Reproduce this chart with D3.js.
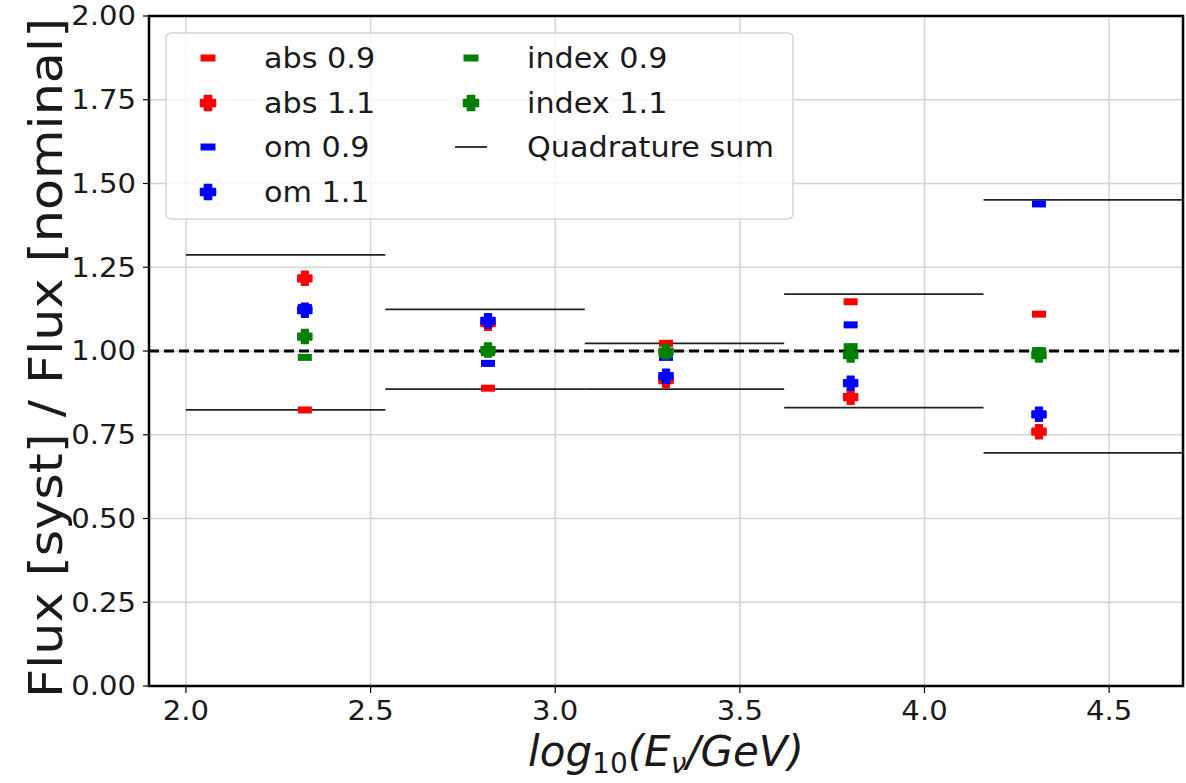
<!DOCTYPE html>
<html>
<head>
<meta charset="utf-8">
<script src="https://cdn.jsdelivr.net/npm/d3@7"></script>
<style>
  body { margin: 0; background: #fff; }
  text { font-family: "DejaVu Sans", sans-serif; fill: #1a1a1a; }
</style>
</head>
<body>
<div id="chart"></div>
<script>
// log10(E/GeV) bins and the mean energy of each bin
const binEdges = [2.0, 2.54, 3.08, 3.62, 4.16, 4.70];
const binCenters = [2.322, 2.818, 3.300, 3.800, 4.310];

// flux ratios per systematic variation
const abs09 = [0.824, 0.889, 1.023, 1.147, 1.110];
const abs11 = [1.217, 1.083, 0.913, 0.862, 0.759];
const om09 = [1.130, 0.963, 0.981, 1.078, 1.439];
const om11 = [1.122, 1.090, 0.925, 0.904, 0.811];
const index09 = [0.981, 0.995, 0.990, 1.013, 1.001];
const index11 = [1.043, 1.003, 0.998, 0.988, 0.988];

// quadrature sum band
const quadUpper = [1.287, 1.124, 1.023, 1.170, 1.451];
const quadLower = [0.824, 0.886, 0.886, 0.831, 0.696];

const xTicks = [2.0, 2.5, 3.0, 3.5, 4.0, 4.5];
const yTicks = [0, 0.25, 0.5, 0.75, 1.0, 1.25, 1.5, 1.75, 2.0];

const series = [
  { name: "abs 0.9", values: abs09, color: "#ff0000", shape: "dash" },
  { name: "abs 1.1", values: abs11, color: "#ff0000", shape: "plus" },
  { name: "om 0.9", values: om09, color: "#0000ff", shape: "dash" },
  { name: "om 1.1", values: om11, color: "#0000ff", shape: "plus" },
  { name: "index 0.9", values: index09, color: "#008000", shape: "dash" },
  { name: "index 1.1", values: index11, color: "#008000", shape: "plus" }
];

const width = 1186, height = 783;
const margin = { top: 16, right: 3, bottom: 97, left: 149 };

const svg = d3.select("#chart").append("svg")
  .attr("width", width)
  .attr("height", height);

const x = d3.scaleLinear().domain([1.9, 4.7]).range([margin.left, width - margin.right]);
const y = d3.scaleLinear().domain([0, 2]).range([height - margin.bottom, margin.top]);

svg.append("clipPath").attr("id", "plotClip")
  .append("rect")
  .attr("x", margin.left).attr("y", margin.top)
  .attr("width", x.range()[1] - x.range()[0])
  .attr("height", y.range()[0] - y.range()[1]);

// grid
const grid = svg.append("g").attr("stroke", "#d4d4d4").attr("stroke-width", 1.5);
grid.selectAll(".gx").data(xTicks).join("line")
  .attr("x1", d => x(d)).attr("x2", d => x(d))
  .attr("y1", y.range()[0]).attr("y2", y.range()[1]);
grid.selectAll(".gy").data(yTicks).join("line")
  .attr("x1", x.range()[0]).attr("x2", x.range()[1])
  .attr("y1", d => y(d)).attr("y2", d => y(d));

const plot = svg.append("g").attr("clip-path", "url(#plotClip)");

// quadrature sum lines per bin
const bins = binCenters.map((c, i) => ({ lo: binEdges[i], hi: binEdges[i + 1], up: quadUpper[i], low: quadLower[i] }));
["up", "low"].forEach(k => {
  plot.append("g").selectAll("line").data(bins).join("line")
    .attr("x1", d => x(d.lo)).attr("x2", d => x(d.hi))
    .attr("y1", d => y(d[k])).attr("y2", d => y(d[k]))
    .attr("stroke", "#222").attr("stroke-width", 1.8);
});

// reference line at 1
plot.append("line")
  .attr("x1", x.range()[0]).attr("x2", x.range()[1])
  .attr("y1", y(1)).attr("y2", y(1))
  .attr("stroke", "#000").attr("stroke-width", 3)
  .attr("stroke-dasharray", "10,5");

// marker shapes
const plusPath = function (s) {
  const a = s / 2, b = s * 0.24;
  return `M${-b},${-a}H${b}V${-b}H${a}V${b}H${b}V${a}H${-b}V${b}H${-a}V${-b}H${-b}Z`;
};
const drawMarker = function (g, shape, color, size) {
  if (shape === "dash") {
    g.append("rect")
      .attr("x", -size / 2).attr("y", -3.5)
      .attr("width", size).attr("height", 7)
      .attr("fill", color);
  } else {
    g.append("path")
      .attr("d", plusPath(size))
      .attr("fill", color)
      .attr("stroke", color).attr("stroke-width", 1.5)
      .attr("stroke-linejoin", "round");
  }
};

series.forEach(s => {
  const g = plot.append("g");
  g.selectAll("g").data(s.values).join("g")
    .attr("transform", (d, i) => `translate(${x(binCenters[i])},${y(d)})`)
    .each(function () { drawMarker(d3.select(this), s.shape, s.color, 14); });
});

// axes frame
svg.append("rect")
  .attr("x", x.range()[0]).attr("y", y.range()[1])
  .attr("width", x.range()[1] - x.range()[0])
  .attr("height", y.range()[0] - y.range()[1])
  .attr("fill", "none").attr("stroke", "#000").attr("stroke-width", 2.5);

// ticks (the source picture is a bit stretched sideways, hence the scale)
const xAxis = svg.append("g");
xAxis.selectAll("line").data(xTicks).join("line")
  .attr("x1", d => x(d)).attr("x2", d => x(d))
  .attr("y1", y.range()[0]).attr("y2", y.range()[0] + 7)
  .attr("stroke", "#000").attr("stroke-width", 1.2);
xAxis.selectAll("text").data(xTicks).join("text")
  .attr("transform", d => `translate(${x(d)},${y.range()[0] + 34}) scale(1.12,1)`)
  .attr("text-anchor", "middle")
  .attr("font-size", 26)
  .text(d => d3.format(".1f")(d));

const yAxis = svg.append("g");
yAxis.selectAll("line").data(yTicks).join("line")
  .attr("x1", x.range()[0] - 6).attr("x2", x.range()[0])
  .attr("y1", d => y(d)).attr("y2", d => y(d))
  .attr("stroke", "#000").attr("stroke-width", 1.2);
yAxis.selectAll("text").data(yTicks).join("text")
  .attr("transform", d => `translate(${x.range()[0] - 13},${y(d)}) scale(1.12,1)`)
  .attr("dy", "0.36em")
  .attr("text-anchor", "end")
  .attr("font-size", 26)
  .text(d => d3.format(".2f")(d));

// axis labels
svg.append("text")
  .attr("transform", `translate(62,358) rotate(-90)`)
  .attr("text-anchor", "middle")
  .attr("font-size", 46)
  .attr("textLength", 680)
  .attr("lengthAdjust", "spacingAndGlyphs")
  .text("Flux [syst] / Flux [nominal]");

const xl = svg.append("text")
  .attr("x", 666).attr("y", 766)
  .attr("text-anchor", "middle")
  .attr("font-size", 42)
  .attr("font-style", "italic");
xl.append("tspan").text("log");
xl.append("tspan").attr("font-size", 28).attr("font-style", "normal").attr("dy", 7).text("10");
xl.append("tspan").attr("dy", -7).text("(E");
xl.append("tspan").attr("font-size", 28).attr("dy", 7).text("ν");
xl.append("tspan").attr("dy", -7).text("/GeV)");

// legend
const legend = svg.append("g");
legend.append("rect")
  .attr("x", 166).attr("y", 33).attr("width", 627).attr("height", 186)
  .attr("rx", 5)
  .attr("fill", "#fff").attr("fill-opacity", 0.8)
  .attr("stroke", "#d6d6d6").attr("stroke-width", 1.5);

const legendItems = series.map(s => ({ name: s.name, color: s.color, shape: s.shape }))
  .concat([{ name: "Quadrature sum", color: "#222", shape: "line" }]);
const rowY = [58, 103, 147, 192];
legendItems.forEach((d, i) => {
  const col = i < 4 ? 0 : 1;
  const row = i < 4 ? i : i - 4;
  const mx = col === 0 ? 208 : 471;
  const tx = col === 0 ? 264 : 527;
  const g = legend.append("g").attr("transform", `translate(${mx},${rowY[row]})`);
  if (d.shape === "line") {
    g.append("line").attr("x1", -16).attr("x2", 16)
      .attr("stroke", d.color).attr("stroke-width", 1.8);
  } else {
    drawMarker(g, d.shape, d.color, 15);
  }
  legend.append("text")
    .attr("transform", `translate(${tx},${rowY[row]}) scale(1.08,1)`)
    .attr("dy", "0.36em")
    .attr("font-size", 28)
    .text(d.name);
});
</script>
</body>
</html>
